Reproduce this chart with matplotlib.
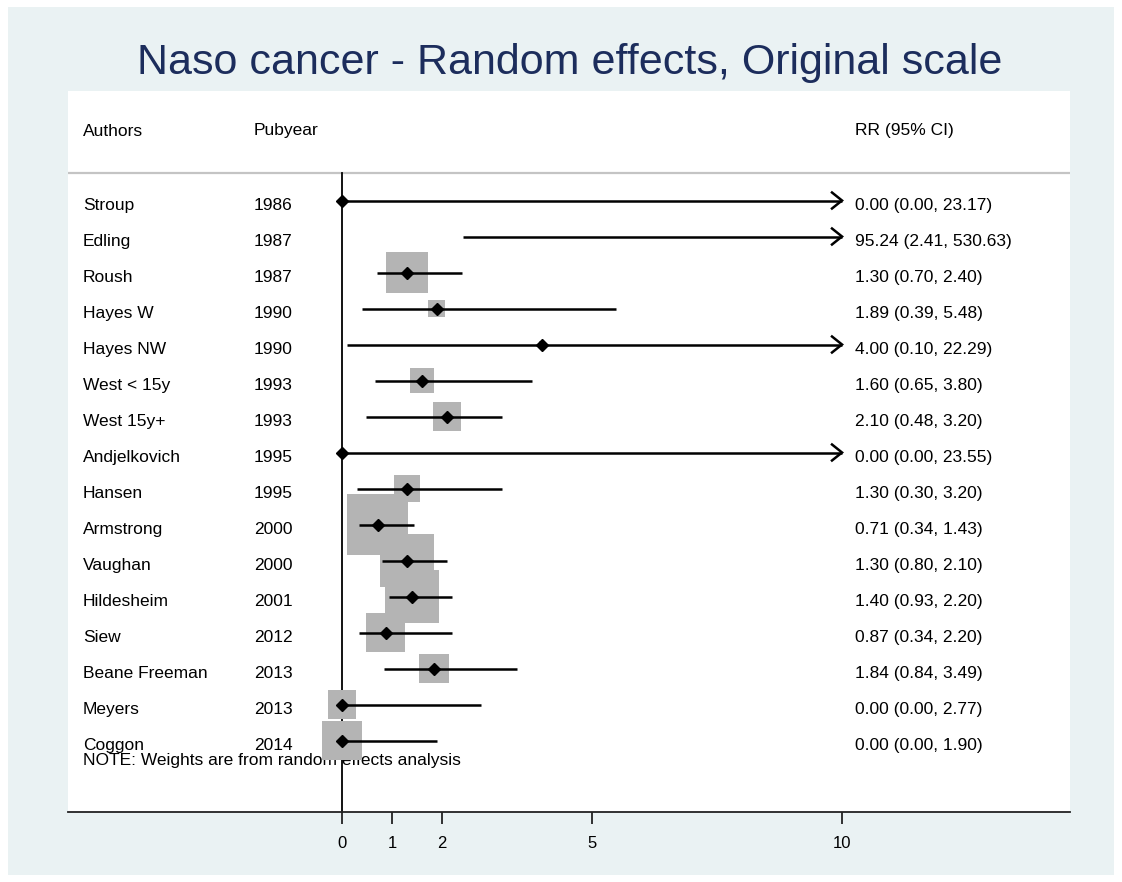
import matplotlib
matplotlib.use("Agg")
import matplotlib.pyplot as plt
from matplotlib.patches import Rectangle
import numpy as np

plt.rcParams['font.family'] = ['Liberation Sans', 'DejaVu Sans']

# ---------------- data ----------------
authors = ["Stroup", "Edling", "Roush", "Hayes W", "Hayes NW", "West < 15y",
           "West 15y+", "Andjelkovich", "Hansen", "Armstrong", "Vaughan",
           "Hildesheim", "Siew", "Beane Freeman", "Meyers", "Coggon"]
pubyear = [1986, 1987, 1987, 1990, 1990, 1993, 1993, 1995, 1995, 2000, 2000,
           2001, 2012, 2013, 2013, 2014]
rr = [0.00, 95.24, 1.30, 1.89, 4.00, 1.60, 2.10, 0.00, 1.30, 0.71, 1.30,
      1.40, 0.87, 1.84, 0.00, 0.00]
ci_low = [0.00, 2.41, 0.70, 0.39, 0.10, 0.65, 0.48, 0.00, 0.30, 0.34, 0.80,
          0.93, 0.34, 0.84, 0.00, 0.00]
ci_high = [23.17, 530.63, 2.40, 5.48, 22.29, 3.80, 3.20, 23.55, 3.20, 1.43,
           2.10, 2.20, 2.20, 3.49, 2.77, 1.90]
weights = [0.1, 0.2, 9.6, 1.4, 0.2, 3.4, 4.3, 0.1, 3.7, 20.3, 15.4, 15.9,
           8.7, 4.6, 4.3, 8.3]
xticks = [0, 1, 2, 5, 10]
title = "Naso cancer - Random effects, Original scale"
note = "NOTE: Weights are from random effects analysis"

# ---------------- layout ----------------
W, H = 1122, 882
fig = plt.figure(figsize=(W / 100, H / 100), dpi=100)
fig.patch.set_facecolor("white")
bg = Rectangle((8 / W, 7 / H), (W - 16) / W, (H - 14) / H,
               transform=fig.transFigure, facecolor="#EAF2F3",
               edgecolor="none", zorder=-10)
fig.patches.append(bg)

ax_l, ax_r, ax_t, ax_b = 68, 1070, 91, 812
ax = fig.add_axes([ax_l / W, 1 - ax_b / H, (ax_r - ax_l) / W, (ax_b - ax_t) / H])
ax.set_zorder(1)
ax.set_facecolor("white")

px_per_x = 50.0
x0_px = 342
row0_px, row_px = 200.5, 36
ax.set_xlim((ax_l - x0_px) / px_per_x, (ax_r - x0_px) / px_per_x)
ax.set_ylim((ax_b - row0_px) / row_px, (ax_t - row0_px) / row_px)

for s in ["top", "left", "right"]:
    ax.spines[s].set_visible(False)
ax.spines["bottom"].set_linewidth(1.3)
ax.spines["bottom"].set_color("#222222")
ax.set_yticks([])
ax.set_xticks(xticks)
ax.set_xticklabels([str(t) for t in xticks], fontsize=12)
ax.tick_params(axis="x", length=8.5, width=1.3, pad=9, color="#222222")

fig.text(570 / W, 1 - 63 / H, title, ha="center", va="center",
         fontsize=31, color="#1C2D5C")

x_auth = (83 - x0_px) / px_per_x
x_year = (254 - x0_px) / px_per_x
x_rr = (855 - x0_px) / px_per_x
fs = 12.5
base_off = 9.5 / row_px
y_head = (126 - row0_px) / row_px + base_off
ax.text(x_auth, y_head, "Authors", fontsize=fs, va="baseline")
ax.text(x_year, y_head, "Pubyear", fontsize=fs, va="baseline")
ax.text(x_rr, y_head, "RR (95% CI)", fontsize=fs, va="baseline")

y_sep = (173 - row0_px) / row_px
ax.axhline(y_sep, color="#C4C4C4", lw=1.6, zorder=1)
ax.plot([0, 0], [y_sep, (ax_b - row0_px) / row_px], color="black", lw=1.3,
        zorder=2, clip_on=False)

ax.text(x_auth, (756 - row0_px) / row_px + base_off, note, fontsize=fs,
        va="baseline", zorder=1)

xmax_draw = 10
box_k = 61 / np.sqrt(20.3)
for i, (a, yr, r, lo, hi, w) in enumerate(zip(authors, pubyear, rr, ci_low,
                                               ci_high, weights)):
    y = i
    ax.text(x_auth, y + base_off, a, fontsize=fs, va="baseline")
    ax.text(x_year, y + base_off, str(yr), fontsize=fs, va="baseline")
    ax.text(x_rr, y + base_off, f"{r:.2f} ({lo:.2f}, {hi:.2f})", fontsize=fs,
            va="baseline")
    # box
    if r <= xmax_draw:
        side = box_k * np.sqrt(w)
        bw, bh = side / px_per_x, side / row_px
        ax.add_patch(Rectangle((r - bw / 2, y - bh / 2), bw, bh,
                               facecolor="#B4B4B4", edgecolor="none",
                               zorder=3))
    # CI line
    hi_d = min(hi, xmax_draw)
    ax.plot([lo, hi_d], [y, y], color="black", lw=1.8, zorder=4,
            solid_capstyle="butt")
    if hi > xmax_draw:
        dx, dy = 10 / px_per_x, 8 / row_px
        ax.plot([hi_d - dx, hi_d, hi_d - dx], [y - dy, y, y + dy],
                color="black", lw=1.8, zorder=4, solid_joinstyle="miter")
    if r <= xmax_draw:
        ax.plot([r], [y], marker="D", ms=6, color="black", zorder=5)

fig.savefig("out.png", dpi=100, facecolor=fig.get_facecolor())
